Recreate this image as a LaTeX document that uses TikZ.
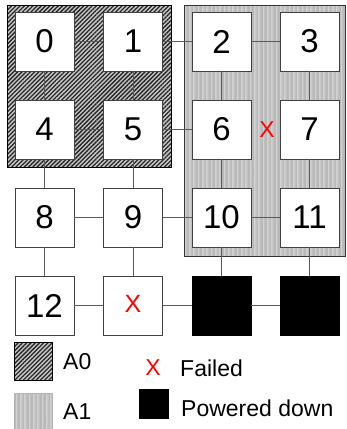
\documentclass[tikz,border=0pt]{standalone}
\usepackage{fontspec}
\setmainfont{Liberation Sans}
\usetikzlibrary{patterns.meta}
\tikzset{
  cell/.style={draw=black!75, line width=0.7pt, fill=white, minimum size=59pt, inner sep=0pt,
    font=\fontsize{33}{33}\selectfont},
  pdown/.style={draw=black, fill=black, minimum size=59pt, inner sep=0pt},
  link/.style={draw=black!65, line width=0.8pt},
  hatchA/.style={draw=black, line width=0.6pt,
    pattern={Lines[angle=45,distance=3pt,line width=1.3pt]}, pattern color=black!85},
  hatchB/.style={draw=black!80, line width=0.6pt,
    pattern={Lines[angle=90,distance=1.3pt,line width=0.35pt]}, pattern color=gray!55},
  lgd/.style={anchor=west, inner sep=0pt, font=\fontsize{23}{23}\selectfont},
  redx/.style={text=red, inner sep=0pt, font=\fontsize{23}{23}\selectfont}
}
\begin{document}
\begin{tikzpicture}[x=1pt,y=-1pt]
\useasboundingbox (0,0) rectangle (346,429);
% regions
\fill[gray!45] (7,5) rectangle (171,167);
\path[hatchA] (7,5) rectangle (171,167);
\fill[gray!35] (184,5) rectangle (345,256);
\path[hatchB] (184,5) rectangle (345,256);
% nodes
\node[cell] (n0) at (44.5,41.5) {0};
\node[cell] (n1) at (133,41.5) {1};
\node[cell] (n2) at (221.5,41.5) {2};
\node[cell] (n3) at (309.5,41.5) {3};
\node[cell] (n4) at (44.5,129.5) {4};
\node[cell] (n5) at (133,129.5) {5};
\node[cell] (n6) at (221.5,129.5) {6};
\node[cell] (n7) at (309.5,129.5) {7};
\node[cell] (n8) at (44.5,217.5) {8};
\node[cell] (n9) at (133,217.5) {9};
\node[cell] (n10) at (221.5,217.5) {10};
\node[cell] (n11) at (309.5,217.5) {11};
\node[cell] (n12) at (44.5,305.5) {12};
\node[cell] (n13) at (133,305.5) {};
\node[redx, font=\fontsize{25}{25}\selectfont] (x13) at (133,304) {X};
\node[pdown] (p14) at (221.5,305.5) {};
\node[pdown] (p15) at (309.5,305.5) {};
\node[redx] (x67) at (267,130) {X};
% links
\draw[link] (n0) -- (n1);
\draw[link] (n0) -- (n4);
\draw[link] (n1) -- (n5);
\draw[link] (n4) -- (n5);
\draw[link] (n1) -- (n2);
\draw[link] (n2) -- (n3);
\draw[link] (n2) -- (n6);
\draw[link] (n3) -- (n7);
\draw[link] (n5) -- (n6);
\draw[link] (n6) -- (n10);
\draw[link] (n7) -- (n11);
\draw[link] (n10) -- (n11);
\draw[link] (n4) -- (n8);
\draw[link] (n5) -- (n9);
\draw[link] (n8) -- (n9);
\draw[link] (n9) -- (n10);
\draw[link] (n8) -- (n12);
\draw[link] (n9) -- (n13);
\draw[link] (n12) -- (n13);
\draw[link] (n13) -- (p14);
\draw[link] (p14) -- (p15);
\draw[link] (n10) -- (p14);
\draw[link] (n11) -- (p15);
% legend
\fill[gray!45] (14,342) rectangle (52,380);
\path[hatchA, line width=0.8pt] (14,342) rectangle (52,380);
\node[lgd] (la0) at (63,362) {A0};
\fill[gray!35] (14,393) rectangle (52,432);
\path[hatchB, draw=gray!60] (14,393) rectangle (52,432);
\node[lgd] (la1) at (63,412) {A1};
\node[redx] (lx) at (153,368) {X};
\node[lgd] (lf) at (180,368) {Failed};
\node[fill=black, minimum size=30pt, inner sep=0pt] (lp) at (154,404) {};
\node[lgd] (lpd) at (181,408) {Powered down};
\end{tikzpicture}
\end{document}
